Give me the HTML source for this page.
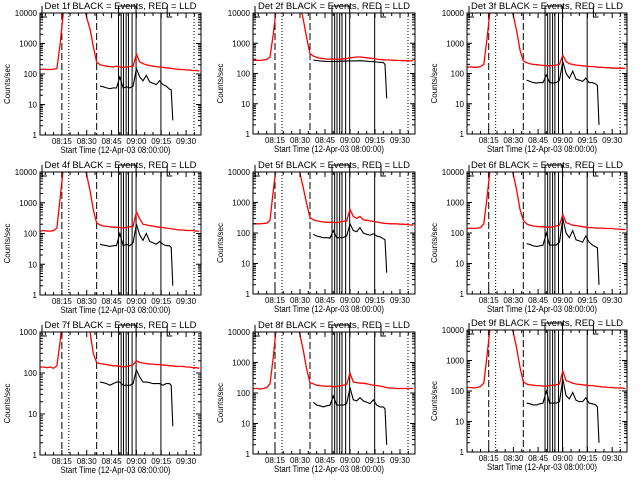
<!DOCTYPE html>
<html><head><meta charset="utf-8"><style>
html,body{margin:0;padding:0;background:#fff;}
svg{display:block;}
text{font-family:"Liberation Sans",sans-serif;fill:#000;}
</style></head><body>
<svg id="chart" width="640" height="480" viewBox="0 0 640 480">
<rect x="0" y="0" width="640" height="480" fill="#fff"/>
</svg>
<script>
const times=[2,4,6,8,10,12,14,16,18,20,22,24,26,28,30,32,34,36,38,40,42,44,46,48,50,52,54,56,58,60,62,64,66,68,70,72,74,76,78,80,82,84,86,88,90,92,94,96,98];
const blackTimes=[38,40,42,44,46,48,50,52,54,56,58,60,62,64,66,68,70,72,74,76,78,80,81,82];
const detectorNames=["1f","2f","3f","4f","5f","6f","7f","8f","9f"];
const decades=[4,4,4,4,4,4,3,4,4];
const yTickLabels=["1","10","100","1000","10000"];
const xTickTimes=[15,30,45,60,75,90];
const xTickLabels=["08:15","08:30","08:45","09:00","09:15","09:30"];
const dashedEvents=[15,36];
const dottedEvents=[19.2,94.8];
const solidEvents=[49.2,50.8,52.2,53.8,55.2,57.4,59.8,74.8];
const red1=[140,145,140,140,145,150,1000,12000,20000,20000,20000,20000,20000,20000,7000,3000,800,250,200,190,180,175,170,180,170,165,170,175,180,450,250,220,200,190,180,175,170,165,160,155,150,145,140,140,135,135,130,130,125];
const red2=[270,275,270,280,290,350,2000,20000,20000,20000,20000,20000,20000,20000,20000,6000,1500,450,380,340,320,310,300,300,300,300,300,305,310,330,340,350,350,340,330,320,310,300,290,285,280,280,275,270,270,265,265,260,260];
const red3=[160,165,160,160,170,200,1500,15000,20000,20000,20000,20000,20000,20000,8000,2500,600,260,230,210,200,195,190,185,180,180,185,190,200,400,250,210,200,190,185,180,175,170,170,165,160,160,155,155,150,150,150,150,150];
const red4=[120,125,120,120,125,150,1500,15000,20000,20000,20000,20000,20000,20000,8000,2500,600,220,190,175,170,165,160,160,155,150,160,165,170,500,300,200,190,180,175,165,160,155,150,145,140,135,130,130,125,125,125,120,120];
const red5=[200,200,200,205,210,260,2500,20000,20000,20000,20000,20000,20000,20000,9000,3000,900,320,270,250,240,230,225,225,225,220,230,240,250,600,350,300,350,270,260,250,240,230,220,210,205,200,200,200,195,195,190,185,180];
const red6=[140,145,140,145,150,200,1500,15000,20000,20000,20000,20000,20000,20000,8000,2500,600,260,200,180,170,165,160,160,155,155,160,170,180,400,220,200,180,175,170,160,155,150,150,145,145,145,140,140,140,135,135,130,130];
const red7=[140,140,135,140,130,150,600,5000,20000,20000,20000,20000,20000,20000,3000,1000,300,180,170,165,160,155,150,150,145,140,145,150,160,200,180,175,170,165,165,160,160,155,155,150,150,145,145,145,140,140,135,135,130];
const red8=[140,140,135,140,150,200,1500,20000,20000,20000,20000,20000,20000,20000,8000,2500,600,220,200,180,175,170,165,170,160,165,170,180,190,450,230,220,210,210,200,190,180,175,170,160,150,145,145,140,140,140,140,140,140];
const red9=[130,130,125,130,140,180,1500,15000,20000,20000,20000,20000,20000,20000,8000,2500,600,200,170,160,155,150,150,145,145,150,155,160,170,450,220,200,180,170,165,160,155,150,150,145,140,135,135,130,130,125,125,125,120];
const black1=[40,38,35,33,35,35,80,35,38,35,40,150,80,60,90,55,50,45,60,45,40,32,30,3];
const black2=[280,270,260,255,250,250,250,250,255,255,260,260,260,260,265,260,255,250,245,240,235,230,200,15];
const black3=[60,55,50,48,50,50,90,50,48,50,60,250,100,70,120,65,60,55,70,50,50,45,40,2];
const black4=[45,42,40,38,40,40,100,40,45,40,50,200,90,60,100,55,50,45,55,45,40,40,35,2];
const black5=[90,80,75,70,70,68,120,70,70,72,80,200,120,110,150,100,90,85,95,80,75,65,60,5];
const black6=[45,42,38,36,38,40,100,40,40,40,50,300,100,70,120,60,55,50,80,50,40,35,33,2];
const black7=[60,58,55,50,55,60,60,50,50,50,55,120,80,60,60,58,55,55,55,50,55,55,50,5];
const black8=[50,40,38,35,38,40,80,40,40,40,45,150,60,55,70,55,50,45,60,40,35,35,30,2];
const black9=[40,38,35,35,38,40,100,40,40,40,45,250,70,55,90,50,45,45,60,40,38,35,30,2];
const redSeries=[red1,red2,red3,red4,red5,red6,red7,red8,red9];
const blackSeries=[black1,black2,black3,black4,black5,black6,black7,black8,black9];

const layout=[
 {L:40,T:13,R:201,B:135},{L:253,T:13,R:415,B:134},{L:467,T:13,R:627,B:134},
 {L:40,T:172,R:201,B:295},{L:253,T:172,R:415,B:294},{L:467,T:172,R:627,B:294},
 {L:40,T:332,R:201,B:455},{L:253,T:332,R:415,B:454},{L:467,T:330,R:627,B:452}];
const T0=1.8,T1=99;
const NS="http://www.w3.org/2000/svg";
const svg=document.getElementById('chart');
function mk(tag,attrs,parent){const e=document.createElementNS(NS,tag);for(const k in attrs)e.setAttribute(k,attrs[k]);(parent||svg).appendChild(e);return e;}

layout.forEach((p,i)=>{
  const dec=decades[i];
  const xS=t=>p.L+(t-T0)*(p.R-p.L)/(T1-T0);
  const yS=v=>p.B-Math.log10(Math.max(v,0.3))/dec*(p.B-p.T);
  const g=mk('g',{});
  
  
  const cid='clip'+i;
  const cp=mk('clipPath',{id:cid},g);
  mk('rect',{x:p.L,y:p.T,width:p.R-p.L,height:p.B-p.T},cp);
  // title
  const title=mk('text',{x:(p.L+p.R)/2,y:p.T-4,'text-anchor':'middle','font-size':9,textLength:152,lengthAdjust:'spacingAndGlyphs'},g);
  title.textContent='Det '+detectorNames[i]+' BLACK = Events, RED = LLD';
  
  
  // event lines
  const ev=mk('g',{'clip-path':'url(#'+cid+')'},g);
  
  
  dashedEvents.forEach(t=>{const l=mk('line',{x1:xS(t),x2:xS(t),y1:p.T,y2:p.B,stroke:'#000','stroke-width':1,'stroke-dasharray':'7,3'},ev);
    });
  dottedEvents.forEach(t=>{const l=mk('line',{x1:xS(t),x2:xS(t),y1:p.T,y2:p.B,stroke:'#000','stroke-width':1,'stroke-dasharray':'1,2'},ev);
    });
  solidEvents.forEach(t=>{const l=mk('line',{x1:xS(t),x2:xS(t),y1:p.T,y2:p.B,stroke:'#000','stroke-width':1},ev);
    });
  // top brackets
  const br=mk('path',{d:'M'+xS(solidEvents[0])+','+p.T+' V'+(p.T-7)+' H'+xS(solidEvents[6])+' V'+p.T+
    ' M'+(p.L+2)+','+(p.T-7)+' V'+(p.T+4)+' H'+(p.L+7)+
    ' M'+(xS(78.6))+','+(p.T-7)+' V'+(p.T+4)+' H'+(xS(78.6)+5),fill:'none',stroke:'#000','stroke-width':1},g);
  
  // series
  const redPts=times.map((t,k)=>xS(t).toFixed(1)+','+yS(redSeries[i][k]).toFixed(1)).join(' ');
  const rl=mk('polyline',{points:redPts,fill:'none',stroke:'#ff0000','stroke-width':1.3,'clip-path':'url(#'+cid+')'},g);
  
  const blkPts=blackTimes.map((t,k)=>xS(t).toFixed(1)+','+yS(blackSeries[i][k]).toFixed(1)).join(' ');
  const bl=mk('polyline',{points:blkPts,fill:'none',stroke:'#000','stroke-width':1.1,'clip-path':'url(#'+cid+')'},g);
  
  // box
  const box=mk('rect',{x:p.L,y:p.T,width:p.R-p.L,height:p.B-p.T,fill:'none',stroke:'#000','stroke-width':1},g);
  
  // y ticks
  let d='';
  for(let k=0;k<=dec;k++){
    const y=yS(Math.pow(10,k));
    d+='M'+p.L+','+y+' h5 M'+p.R+','+y+' h-5 ';
    const tl=mk('text',{x:p.L-3,y:y+3,'text-anchor':'end','font-size':8},g);
    tl.textContent=yTickLabels[k];
    
    if(k<dec){for(let m=2;m<10;m++){const ym=yS(m*Math.pow(10,k));d+='M'+p.L+','+ym.toFixed(1)+' h3 M'+p.R+','+ym.toFixed(1)+' h-3 ';}}
  }
  // x ticks
  for(let t=5;t<T1;t+=5){const x=xS(t).toFixed(1);const len=(t%15===0)?5:3;d+='M'+x+','+p.B+' v-'+len+' M'+x+','+p.T+' v'+len+' ';}
  const tk=mk('path',{d:d,stroke:'#000','stroke-width':1,fill:'none'},g);
  
  xTickTimes.forEach((t,k)=>{const tl=mk('text',{x:xS(t),y:p.B+9,'text-anchor':'middle','font-size':8},g);
    tl.textContent=xTickLabels[k];});
  const xl=mk('text',{x:(p.L+p.R)/2-5,y:p.B+18,'text-anchor':'middle','font-size':9,textLength:110,lengthAdjust:'spacingAndGlyphs'},g);
  xl.textContent='Start Time (12-Apr-03 08:00:00)';
  
  const cy=(p.T+p.B)/2+10;
  const yl=mk('text',{x:p.L-30,y:cy,'text-anchor':'middle','font-size':8,transform:'rotate(-90 '+(p.L-30)+' '+cy+')'},g);
  yl.textContent='Counts/sec';
  
});
</script>
</body></html>
